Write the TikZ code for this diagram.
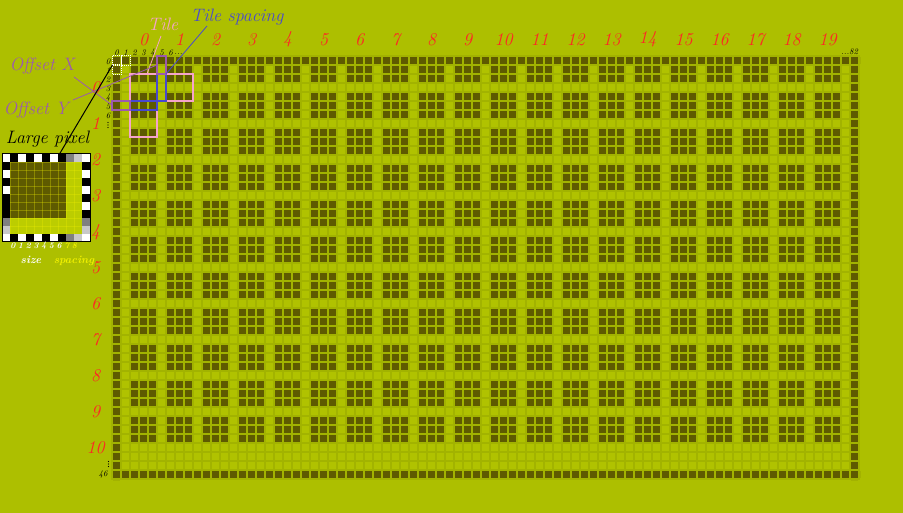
\documentclass[tikz,border=0pt]{standalone}
\usepackage{fontspec}
\usepackage{xcolor}
\definecolor{bg}{HTML}{ADBF00}
\definecolor{dk}{HTML}{5E5A00}
\definecolor{lt}{HTML}{B0C200}
\definecolor{gapc}{HTML}{A2B300}
\definecolor{lbl}{HTML}{FF2525}
\definecolor{pinkc}{HTML}{F6A4CA}
\definecolor{bluec}{HTML}{4848D0}
\definecolor{purp}{HTML}{9C5AAE}
\definecolor{ltin}{HTML}{BCCD00}
\definecolor{yl}{HTML}{F0F000}
\definecolor{dgray}{HTML}{808080}
\definecolor{lgray}{HTML}{C8C8C8}
\begin{document}
\begin{tikzpicture}[x=1pt,y=-1pt,
  big/.style={font=\fontsize{18}{18}\selectfont\itshape\addfontfeatures{FakeBold=0.6}, inner sep=0pt},
  redl/.style={big, text=lbl},
  tiny/.style={font=\fontsize{8.5}{8.5}\selectfont\itshape, inner sep=0pt, text=black},
  small/.style={font=\fontsize{11}{11}\selectfont\bfseries\itshape, inner sep=0pt},
  annbox/.style={line width=1.3pt},
  ann/.style={line width=0.8pt}]
\fill[bg] (0,0) rectangle (903,513);
\useasboundingbox (0,0) rectangle (903,513);

% ---- grid area ----
\fill[gapc] (111,55) rectangle (860,480);
\foreach \r in {0,...,46}
  \draw[lt, line width=7pt, dash pattern=on 7pt off 2pt] (113,60.5+9*\r) -- (860,60.5+9*\r);
% border rows and columns
\foreach \r in {0,46}
  \draw[dk, line width=7pt, dash pattern=on 7pt off 2pt] (113,60.5+9*\r) -- (860,60.5+9*\r);
\foreach \c in {0,82}
  \draw[dk, line width=7pt, dash pattern=on 7pt off 2pt] (116.5+9*\c,57) -- (116.5+9*\c,480);
% tiles
\foreach \j in {0,...,10}
  \foreach \k in {0,1,2}
    \draw[dk, line width=7pt, dash pattern=on 7pt off 2pt on 7pt off 2pt on 7pt off 11pt]
      (131,60.5+9*\k+36*\j) -- (841,60.5+9*\k+36*\j);

% ---- dotted white cells ----
\foreach \i/\j in {0/0,1/0,0/1}
  \draw[white, line width=1pt, dash pattern=on 1pt off 1pt] (112.5+9*\i,56+9*\j) rectangle ++(9,9.5);

% ---- annotation boxes ----
\draw[pinkc, annbox] (130,74) rectangle (157,101);
\draw[pinkc, annbox] (166,74) rectangle (193,101);
\draw[pinkc, annbox] (130,110) rectangle (157,137);
\draw[bluec, annbox] (157,74) rectangle (166,101);
\draw[bluec, annbox] (130,101) rectangle (157,110);
\draw[purp, annbox] (112,101) rectangle (130,110);
\draw[purp, annbox] (157,56) rectangle (166,74);
\coordinate (tiletop) at (147,74);
\coordinate (spacetop) at (166,74);
\coordinate (offxbox) at (112.5,105.5);
\coordinate (offybox) at (157,65);
\coordinate (pix0) at (112.5,65);

% ---- large pixel illustration ----
\fill[ltin] (10,162) rectangle (82,234);
\fill[dk] (10,162) rectangle (66,218);
\foreach \k in {0,...,9} {
  \draw[yl, opacity=0.3, line width=0.8pt] (10+8*\k,162) -- (10+8*\k,234);
  \draw[yl, opacity=0.3, line width=0.8pt] (10,162+8*\k) -- (82,162+8*\k);
}
\foreach \c [count=\k from 0] in {white,black,white,black,white,black,white,black,dgray,lgray,white} {
  \fill[\c] (2+8*\k,154) rectangle ++(8,8);
  \fill[\c] (2+8*\k,234) rectangle ++(8,8);
  \fill[\c] (82,154+8*\k) rectangle ++(8,8);
}
\foreach \c [count=\k from 0] in {white,black,white,black,white,black,black,black,dgray,lgray,white}
  \fill[\c] (2,154+8*\k) rectangle ++(8,8);
\draw[black, line width=1pt] (2,154) rectangle (90,242);
\coordinate (lpx) at (59.5,154);
\foreach \d [count=\k from 0] in {0,1,2,3,4,5,6}
  \node[tiny, text=white, font=\fontsize{8.5}{8.5}\selectfont\bfseries\itshape] (sd\k) at (13+7.7*\k,246) {\d};
\node[tiny, text=yl, font=\fontsize{8.5}{8.5}\selectfont\bfseries\itshape] (sd7) at (67,246) {7};
\node[tiny, text=yl, font=\fontsize{8.5}{8.5}\selectfont\bfseries\itshape] (sd8) at (74.5,246) {8};
\node[small, text=white, anchor=base] (sizel) at (31,264) {size};
\node[small, text=yl, anchor=base] (spacl) at (74,264) {spacing};

% ---- small pixel index labels ----
\foreach \k in {0,...,6} {
  \node[tiny] (px\k) at (116.5+9*\k,52.5) {\k};
  \node[tiny] (py\k) at (108,61.5+9*\k) {\k};
}
\node[tiny] (pxd) at (178.5,54.5) {...};
\node[tiny, anchor=west] (px82) at (841,52) {...82};
\node[tiny] (py46) at (103,474.5) {46};
% vertical ellipsis dots
\foreach \yy in {122.5,125,127.5} \fill[black] (108,\yy) circle (0.55);
\foreach \yy in {461.5,464,466.5} \fill[black] (108.5,\yy) circle (0.55);

% ---- red tile labels ----
\foreach \i in {0,...,19}
  \node[redl] (tc\i) at (143.5+36*\i,39.5) {\i};
\foreach \j in {0,...,10}
  \node[redl] (tr\j) at (95.5,88+36*\j) {\j};

% ---- annotation texts and lines ----
\node[big, text=pinkc, anchor=base] (tile) at (163,31) {Tile};
\node[big, text=bluec, anchor=base] (tsp) at (237,21.5) {Tile spacing};
\node[big, text=purp, anchor=base] (offx) at (42,70.5) {Offset X};
\node[big, text=purp, anchor=base] (offy) at (36,115) {Offset Y};
\node[big, text=black, anchor=base] (lpix) at (47.5,144) {Large pixel};
\coordinate (tileend) at (161,36);
\coordinate (tspend) at (207,26);
\coordinate (offxend) at (74,77);
\coordinate (offyend) at (73,100);
\draw[pinkc, ann] (tileend) -- (tiletop);
\draw[bluec, ann] (tspend) -- (spacetop);
\draw[purp, ann] (offxend) -- (offxbox);
\draw[purp, ann] (offyend) -- (offybox);
\draw[black, line width=1pt] (lpx) -- (pix0);
\end{tikzpicture}
\end{document}
